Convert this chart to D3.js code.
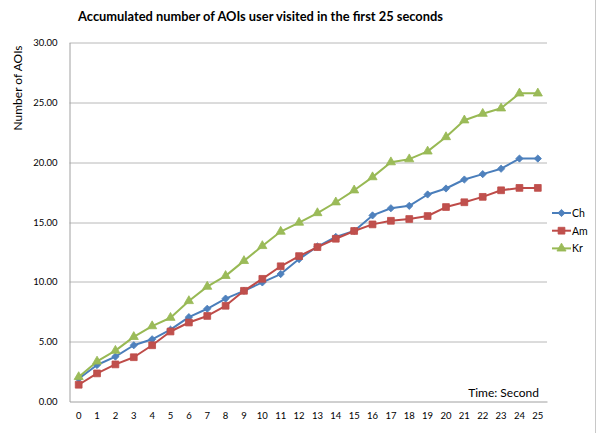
<!DOCTYPE html>
<html>
<head>
<meta charset="utf-8">
<script src="https://cdn.jsdelivr.net/npm/d3@7"></script>
<style>
  body { margin: 0; background: #fff; }
  text { font-family: Lato, "Open Sans", sans-serif; fill: #000; }
</style>
</head>
<body>
<svg id="chart"></svg>
<script>
// seconds on the x axis
const seconds = d3.range(0, 26);
const yTicks = [0, 5, 10, 15, 20, 25, 30];

const chValues = [1.9, 3.05, 3.75, 4.7, 5.2, 6.0, 7.05, 7.75, 8.6, 9.25, 9.95, 10.65, 11.9, 12.95, 13.75, 14.25, 15.55, 16.15, 16.35, 17.3, 17.8, 18.55, 19.0, 19.45, 20.3, 20.3];
const amValues = [1.4, 2.35, 3.1, 3.7, 4.7, 5.85, 6.6, 7.15, 8.0, 9.25, 10.25, 11.3, 12.15, 12.9, 13.6, 14.25, 14.8, 15.1, 15.25, 15.5, 16.25, 16.65, 17.1, 17.65, 17.85, 17.85];
const krValues = [2.05, 3.35, 4.25, 5.4, 6.3, 7.0, 8.4, 9.6, 10.5, 11.75, 13.0, 14.2, 14.95, 15.75, 16.65, 17.65, 18.75, 20.0, 20.25, 20.9, 22.1, 23.5, 24.05, 24.5, 25.75, 25.75];

const seriesNames = ['Ch', 'Am', 'Kr'];

const series = [
  { name: 'Ch', values: chValues, line: '#4A7EBB', fill: '#4F81BD', symbol: 'diamond' },
  { name: 'Am', values: amValues, line: '#BE4B48', fill: '#C0504D', symbol: 'square' },
  { name: 'Kr', values: krValues, line: '#98B954', fill: '#9BBB59', symbol: 'triangle' }
];

const svg = d3.select('#chart')
  .attr('width', 596)
  .attr('height', 433);

const margin = { top: 42.5, right: 49, bottom: 31.5, left: 69.5 };
const width = 596 - margin.left - margin.right;
const height = 433 - margin.top - margin.bottom;

const x = d3.scaleBand()
  .domain(seconds)
  .range([0, width])
  .padding(0);

const y = d3.scaleLinear()
  .domain([0, 30])
  .range([height, 0]);

const g = svg.append('g')
  .attr('transform', `translate(${margin.left},${margin.top})`);

// gridlines
g.append('g')
  .selectAll('line')
  .data(yTicks.filter(d => d > 0))
  .enter()
  .append('line')
  .attr('x1', 0)
  .attr('x2', width)
  .attr('y1', d => Math.round(y(d)) + 0.5)
  .attr('y2', d => Math.round(y(d)) + 0.5)
  .style('stroke', '#B8B8B8')
  .style('stroke-width', 1);

// y axis
const yAxis = d3.axisLeft(y)
  .tickValues(yTicks)
  .tickSize(0)
  .tickPadding(12)
  .tickFormat(d3.format('.2f'));

g.append('g')
  .attr('class', 'y-axis')
  .call(yAxis)
  .call(sel => sel.select('.domain').style('stroke', '#A0A0A0'))
  .selectAll('text')
  .style('font-size', '9.5px')
  .style('font-family', 'Lato, sans-serif');

// x axis
const xAxis = d3.axisBottom(x)
  .tickSize(0)
  .tickPadding(11);

g.append('g')
  .attr('class', 'x-axis')
  .attr('transform', `translate(0,${height})`)
  .call(xAxis)
  .call(sel => sel.select('.domain').style('stroke', '#A0A0A0'))
  .selectAll('text')
  .style('font-size', '9.5px')
  .style('font-family', 'Lato, sans-serif');

const cx = d => x(d) + x.bandwidth() / 2;

function symbolPath(kind) {
  if (kind === 'diamond') return d3.symbol(d3.symbolSquare, 26)();
  if (kind === 'square') return d3.symbol(d3.symbolSquare, 46)();
  return d3.symbol(d3.symbolTriangle, 36)();
}

const line = d3.line()
  .x((d, i) => cx(seconds[i]))
  .y(d => y(d));

series.forEach(s => {
  g.append('path')
    .datum(s.values)
    .attr('d', line)
    .style('fill', 'none')
    .style('stroke', s.line)
    .style('stroke-width', 2)
    .style('stroke-linejoin', 'round');

  g.selectAll('.pt-' + s.name)
    .data(s.values)
    .enter()
    .append('path')
    .attr('class', 'pt-' + s.name)
    .attr('d', symbolPath(s.symbol))
    .attr('transform', (d, i) => `translate(${cx(seconds[i])},${y(d)})` + (s.symbol === 'diamond' ? ' rotate(45)' : ''))
    .style('fill', s.fill)
    .style('stroke', s.line)
    .style('stroke-width', 0.8);
});

// legend
const legend = svg.append('g')
  .attr('transform', 'translate(552,213)');

series.forEach((s, i) => {
  const row = legend.append('g').attr('transform', `translate(0,${i * 17.7})`);
  row.append('line')
    .attr('x1', 0).attr('x2', 19)
    .style('stroke', s.line)
    .style('stroke-width', 2);
  row.append('path')
    .attr('d', symbolPath(s.symbol))
    .attr('transform', 'translate(9.5,0)' + (s.symbol === 'diamond' ? ' rotate(45)' : ''))
    .style('fill', s.fill)
    .style('stroke', s.line)
    .style('stroke-width', 0.8);
  row.append('text')
    .attr('x', 20)
    .attr('y', 4)
    .text(seriesNames[i])
    .style('font-size', '10.5px');
});

// title, sized so it spans about 365px like the original
const title = svg.append('text')
  .attr('x', 260.5)
  .attr('y', 21)
  .attr('text-anchor', 'middle')
  .text('Accumulated number of AOIs user visited in the first 25 seconds')
  .style('font-size', '14px')
  .style('font-weight', 'bold');
const tw = title.node().getComputedTextLength();
if (tw > 0) title.style('font-size', (14 * 365 / tw).toFixed(2) + 'px');

// y-axis label
svg.append('text')
  .attr('transform', 'translate(22,88) rotate(-90)')
  .attr('text-anchor', 'middle')
  .text('Number of AOIs')
  .style('font-size', '12px');

// x-axis note
svg.append('text')
  .attr('x', 539)
  .attr('y', 397)
  .attr('text-anchor', 'end')
  .text('Time: Second')
  .style('font-size', '12px');

// chart border on the right edge
svg.append('line')
  .attr('x1', 595.5).attr('x2', 595.5)
  .attr('y1', 0).attr('y2', 433)
  .style('stroke', '#C8C8C8');
</script>
</body>
</html>
